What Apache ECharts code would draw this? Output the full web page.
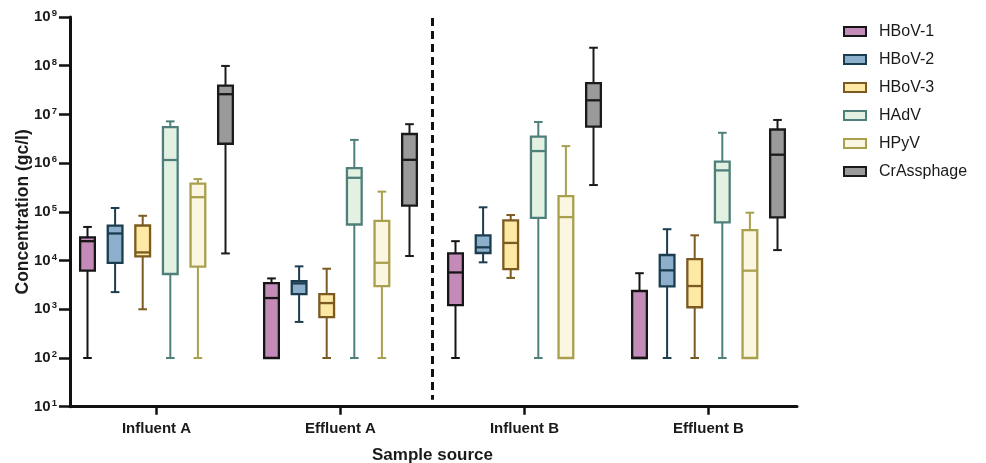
<!DOCTYPE html>
<html><head><meta charset="utf-8">
<script src="https://cdn.jsdelivr.net/npm/echarts@6/dist/echarts.min.js"></script>
<style>html,body{margin:0;padding:0;background:#fff}#c{width:986px;height:463px}</style>
</head><body><div id="c"></div>
<script>
// ---------------- DATA ----------------
const categories = ['Influent A', 'Effluent A', 'Influent B', 'Effluent B'];
const seriesNames = ['HBoV-1', 'HBoV-2', 'HBoV-3', 'HAdV', 'HPyV', 'CrAssphage'];
const yTicks = [1e1, 1e2, 1e3, 1e4, 1e5, 1e6, 1e7, 1e8, 1e9];
// each entry: [min, Q1, median, Q3, max] for Influent A, Effluent A, Influent B, Effluent B
const hbov1 = [
  [100, 6.2e3, 2.5e4, 3.0e4, 4.9e4],
  [100, 100, 1.7e3, 3.45e3, 4.3e3],
  [100, 1.22e3, 5.7e3, 1.4e4, 2.5e4],
  [100, 100, 100, 2.37e3, 5.5e3]
];
const hbov2 = [
  [2.25e3, 9.0e3, 3.6e4, 5.2e4, 1.2e5],
  [550, 2.05e3, 3.4e3, 3.8e3, 7.6e3],
  [9.2e3, 1.43e4, 1.87e4, 3.3e4, 1.24e5],
  [100, 2.95e3, 6.3e3, 1.3e4, 4.4e4]
];
const hbov3 = [
  [1.0e3, 1.22e4, 1.47e4, 5.25e4, 8.3e4],
  [100, 690, 1.34e3, 2.05e3, 6.8e3],
  [4.4e3, 6.7e3, 2.3e4, 6.7e4, 8.6e4],
  [100, 1.1e3, 3.0e3, 1.07e4, 3.3e4]
];
const hadv = [
  [100, 5.3e3, 1.16e6, 5.5e6, 7.2e6],
  [100, 5.5e4, 5.0e5, 7.9e5, 3.0e6],
  [100, 7.5e4, 1.77e6, 3.5e6, 7.0e6],
  [100, 6.1e4, 7.1e5, 1.07e6, 4.2e6]
];
const hpyv = [
  [100, 7.5e3, 2.0e5, 3.8e5, 4.7e5],
  [100, 3.0e3, 9.0e3, 6.5e4, 2.6e5],
  [100, 100, 7.8e4, 2.1e5, 2.24e6],
  [100, 100, 6.2e3, 4.2e4, 9.6e4]
];
const crass = [
  [1.4e4, 2.5e6, 2.6e7, 3.9e7, 9.9e7],
  [1.24e4, 1.34e5, 1.17e6, 3.96e6, 6.3e6],
  [3.55e5, 5.6e6, 1.95e7, 4.4e7, 2.34e8],
  [1.64e4, 7.7e4, 1.49e6, 4.9e6, 7.7e6]
];
const dividerAfter = 'Effluent A';

// ---------------- STYLE ----------------
const allData = [hbov1, hbov2, hbov3, hadv, hpyv, crass];
const fills = ['#C48BB9', '#8CB0CB', '#FDE9A4', '#E3F1E3', '#FBF6E1', '#9A9A9A'];
const strokes = ['#151515', '#1C3D50', '#7B5B22', '#4F7F7A', '#A9A04E', '#1A1A1A'];
const FONT = '"Liberation Sans", Arial, Helvetica, sans-serif';
const TXT = '#1a1a1a';

function boxRender(k) {
  return function (params, api) {
    const ci = api.value(0);
    const cs = params.coordSys;
    const band = cs.width / categories.length;
    const cx = api.coord([ci, 10])[0] + (k - 2.5) * band * 0.15;
    const yMin = api.coord([ci, api.value(1)])[1];
    const yQ1 = api.coord([ci, api.value(2)])[1];
    const yMed = api.coord([ci, api.value(3)])[1];
    const yQ3 = api.coord([ci, api.value(4)])[1];
    const yMax = api.coord([ci, api.value(5)])[1];
    const bw = band * 0.08;
    const cw = band * 0.047;
    const st = { stroke: strokes[k], lineWidth: 2 };
    return {
      type: 'group',
      children: [
        { type: 'line', shape: { x1: cx, y1: yMin, x2: cx, y2: yMax }, style: st },
        { type: 'line', shape: { x1: cx - cw / 2, y1: yMin, x2: cx + cw / 2, y2: yMin }, style: st },
        { type: 'line', shape: { x1: cx - cw / 2, y1: yMax, x2: cx + cw / 2, y2: yMax }, style: st },
        { type: 'rect', shape: { x: cx - bw / 2, y: yQ3, width: bw, height: yQ1 - yQ3 },
          style: { fill: fills[k], stroke: strokes[k], lineWidth: 2.3 } },
        { type: 'line', shape: { x1: cx - bw / 2, y1: yMed, x2: cx + bw / 2, y2: yMed },
          style: { stroke: strokes[k], lineWidth: 2.3 } }
      ]
    };
  };
}

const series = seriesNames.map(function (name, k) {
  return {
    name: name,
    type: 'custom',
    xAxisIndex: 1,
    yAxisIndex: 1,
    itemStyle: { color: fills[k], borderColor: strokes[k], borderWidth: 2 },
    encode: { x: 0, y: [1, 2, 3, 4, 5] },
    data: allData[k].map(function (v, i) { return [i].concat(v); }),
    renderItem: boxRender(k),
    silent: true
  };
});

series.push({
  name: 'divider',
  type: 'custom',
  xAxisIndex: 1,
  yAxisIndex: 1,
  data: [[categories.indexOf(dividerAfter)]],
  renderItem: function (params, api) {
    const cs = params.coordSys;
    const band = cs.width / categories.length;
    const x = api.coord([api.value(0), 10])[0] + band / 2;
    return {
      type: 'line',
      shape: { x1: x, y1: cs.y + 1, x2: x, y2: cs.y + cs.height - 7 },
      style: { stroke: '#111', lineWidth: 3, lineDash: [8, 5] }
    };
  },
  silent: true
});

const chart = echarts.init(document.getElementById('c'), null, { renderer: 'canvas' });
chart.setOption({
  animation: false,
  backgroundColor: '#fff',
  textStyle: { fontFamily: FONT },
  grid: [
    { left: 70, top: 17, right: 189, bottom: 56.3, containLabel: false, outerBoundsMode: 'none' },
    { left: 64.5, top: 17, width: 736, bottom: 56.3, containLabel: false, outerBoundsMode: 'none' }
  ],
  legend: {
    orient: 'vertical',
    left: 843,
    top: 22.5,
    padding: 0,
    itemWidth: 22,
    itemHeight: 9,
    itemGap: 10,
    icon: 'rect',
    textStyle: { fontFamily: FONT, fontSize: 16, color: TXT, lineHeight: 18, padding: [0, 0, 0, 8] },
    data: seriesNames.map(function (n, k) {
      return { name: n, icon: 'rect', itemStyle: { color: fills[k], borderColor: strokes[k], borderWidth: 2 } };
    })
  },
  xAxis: [
    {
      gridIndex: 0, type: 'category', data: categories,
      axisLine: { show: true, onZero: false, lineStyle: { color: '#111', width: 3 } },
      axisTick: { show: false }, axisLabel: { show: false }, splitLine: { show: false }
    },
    {
      gridIndex: 1, type: 'category', data: categories,
      axisLine: { show: false, onZero: false },
      axisTick: { show: true, alignWithLabel: true, length: 8, lineStyle: { color: '#111', width: 2.5 } },
      axisLabel: { fontFamily: FONT, fontSize: 15, fontWeight: 'bold', color: TXT, margin: 15 },
      splitLine: { show: false },
      name: 'Sample source', nameLocation: 'middle', nameGap: 40, nameMoveOverlap: false,
      nameTextStyle: { fontFamily: FONT, fontSize: 17, fontWeight: 'bold', color: TXT }
    }
  ],
  yAxis: [
    {
      gridIndex: 0, type: 'log', logBase: 10, min: yTicks[0], max: yTicks[yTicks.length - 1],
      axisLine: { show: true, lineStyle: { color: '#111', width: 3 } },
      axisTick: { show: true, length: 11, lineStyle: { color: '#111', width: 2.5 } },
      splitLine: { show: false },
      axisLabel: {
        margin: 13,
        formatter: function (v) {
          const e = Math.round(Math.log10(v));
          return '{b|10}{s|' + e + '}';
        },
        rich: {
          b: { fontFamily: FONT, fontSize: 15, fontWeight: 'bold', color: TXT, lineHeight: 17 },
          s: { fontFamily: FONT, fontSize: 9.5, fontWeight: 'bold', color: TXT, lineHeight: 9, verticalAlign: 'top', padding: [0, 0, 0, 1] }
        }
      },
      name: 'Concentration (gc/l)', nameLocation: 'middle', nameGap: 38, nameMoveOverlap: false,
      nameTextStyle: { fontFamily: FONT, fontSize: 17.5, fontWeight: 'bold', color: TXT }
    },
    {
      gridIndex: 1, type: 'log', logBase: 10, min: yTicks[0], max: yTicks[yTicks.length - 1],
      show: false
    }
  ],
  series: series
});
</script>
</body></html>
